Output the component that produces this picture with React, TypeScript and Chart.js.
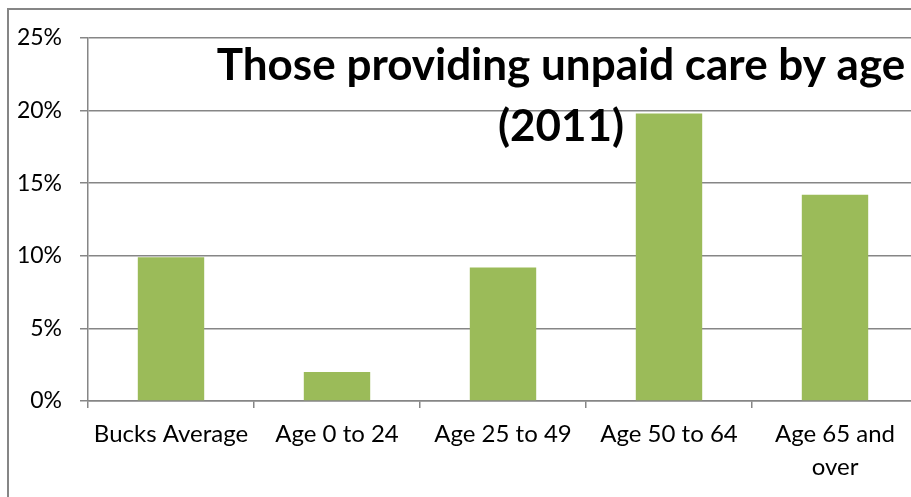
import React, { useEffect, useRef } from "react";
import { Chart, registerables } from "chart.js";

Chart.register(...registerables);

const categories = ["Bucks Average", "Age 0 to 24", "Age 25 to 49", "Age 50 to 64", "Age 65 and over"];
const values = [9.9, 2.0, 9.2, 19.8, 14.2];
const yMax = 25;
const yStep = 5;
const titleLines = ["Those providing unpaid care by age", "(2011)"];

const FONT = "Lato, 'Open Sans', sans-serif";
const GRID = "#868686";
const BAR = "#9BBB59";

function wrapLabel(label: string): string | string[] {
  if (label.length <= 13) return label;
  const words = label.split(" ");
  const lines: string[] = [];
  let cur = "";
  for (const w of words) {
    const next = cur ? cur + " " + w : w;
    if (next.length > 10 && cur) {
      lines.push(cur);
      cur = w;
    } else cur = next;
  }
  if (cur) lines.push(cur);
  return lines;
}

const titlePlugin = {
  id: "overlayTitle",
  afterDraw(chart: any) {
    const ctx = chart.ctx;
    ctx.save();
    ctx.fillStyle = "#000";
    ctx.font = `bold 44px ${FONT}`;
    ctx.textAlign = "center";
    ctx.textBaseline = "alphabetic";
    const cx = 561;
    ctx.fillText(titleLines[0], cx, 80);
    ctx.fillText(titleLines[1], cx, 141);
    ctx.restore();
  },
};

export default function App() {
  const ref = useRef<HTMLCanvasElement | null>(null);
  useEffect(() => {
    document.body.style.overflow = "hidden";
    const canvas = ref.current!;
    const chart = new Chart(canvas, {
      type: "bar",
      data: {
        labels: categories,
        datasets: [
          {
            data: values,
            backgroundColor: BAR,
            borderWidth: 0,
            barPercentage: 0.4,
            categoryPercentage: 1,
          },
        ],
      },
      options: {
        animation: false,
        responsive: false,
        maintainAspectRatio: false,
        layout: { padding: { left: 0, right: 22, top: 38, bottom: 0 } },
        plugins: { legend: { display: false }, tooltip: { enabled: false }, title: { display: false } },
        scales: {
          x: {
            afterFit(scale: any) {
              scale.height = 96;
            },
            grid: {
              offset: true,
              drawOnChartArea: false,
              drawTicks: true,
              tickLength: 7,
              color: GRID,
              lineWidth: 1.5,
            },
            border: { color: GRID, width: 1.5 },
            ticks: {
              color: "#000",
              font: { family: FONT, size: 24, lineHeight: 1.38 },
              padding: 10,
              maxRotation: 0,
              autoSkip: false,
              callback(this: any, v: any) {
                return wrapLabel(categories[v as number]);
              },
            },
          },
          y: {
            min: 0,
            max: yMax,
            afterFit(scale: any) {
              scale.width = 88;
            },
            grid: { color: GRID, lineWidth: 1.5, tickLength: 8, drawTicks: true },
            border: { color: GRID, width: 1.5 },
            ticks: {
              stepSize: yStep,
              color: "#000",
              font: { family: FONT, size: 23 },
              padding: 18,
              callback: (v: any) => `${v}%`,
            },
          },
        },
      },
      plugins: [titlePlugin],
    });
    return () => chart.destroy();
  }, []);

  return (
    <div
      style={{
        position: "fixed",
        left: 0,
        top: 0,
        width: 911,
        height: 497,
        overflow: "hidden",
        background: "#fff",
      }}
    >
      <div
        style={{
          position: "absolute",
          left: 7,
          top: 8,
          width: 1000,
          height: 600,
          border: `2px solid ${GRID}`,
          boxSizing: "border-box",
        }}
      />
      <canvas
        ref={ref}
        width={940}
        height={497}
        style={{ position: "absolute", left: 0, top: 0, width: 940, height: 497 }}
      />
    </div>
  );
}
